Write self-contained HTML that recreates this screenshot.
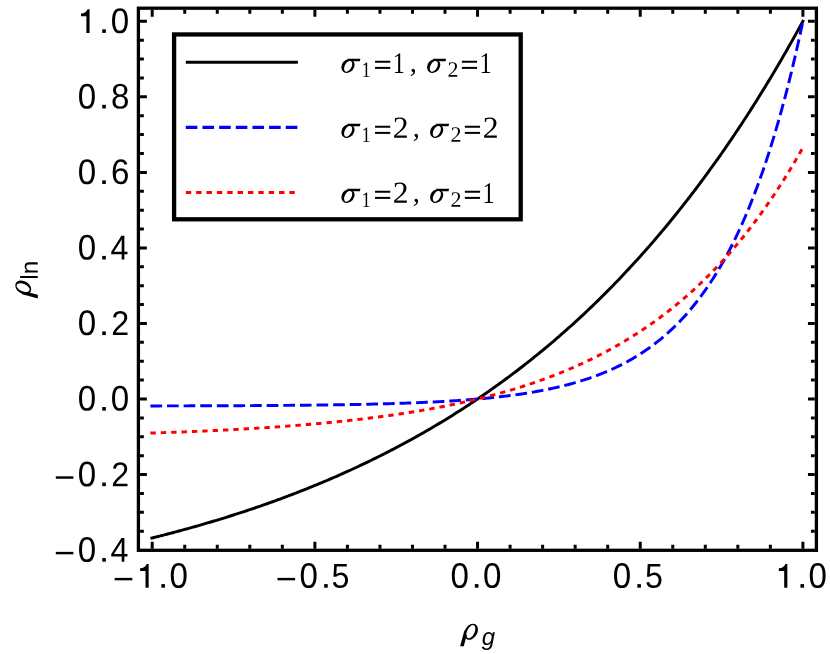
<!DOCTYPE html>
<html lang="en"><head><meta charset="utf-8"><title>plot</title><style>html,body{margin:0;padding:0;background:#fff}svg{display:block;will-change:transform}</style></head><body>
<svg width="830" height="654" viewBox="0 0 830 654">
<path d="M140.05,531.20h3.80M814.75,531.20h-3.80M140.05,512.31h3.80M814.75,512.31h-3.80M140.05,493.43h3.80M814.75,493.43h-3.80M140.05,474.54h6.80M814.75,474.54h-6.80M140.05,455.65h3.80M814.75,455.65h-3.80M140.05,436.77h3.80M814.75,436.77h-3.80M140.05,417.88h3.80M814.75,417.88h-3.80M140.05,399.00h6.80M814.75,399.00h-6.80M140.05,380.12h3.80M814.75,380.12h-3.80M140.05,361.23h3.80M814.75,361.23h-3.80M140.05,342.34h3.80M814.75,342.34h-3.80M140.05,323.46h6.80M814.75,323.46h-6.80M140.05,304.57h3.80M814.75,304.57h-3.80M140.05,285.69h3.80M814.75,285.69h-3.80M140.05,266.80h3.80M814.75,266.80h-3.80M140.05,247.92h6.80M814.75,247.92h-6.80M140.05,229.04h3.80M814.75,229.04h-3.80M140.05,210.15h3.80M814.75,210.15h-3.80M140.05,191.26h3.80M814.75,191.26h-3.80M140.05,172.38h6.80M814.75,172.38h-6.80M140.05,153.50h3.80M814.75,153.50h-3.80M140.05,134.61h3.80M814.75,134.61h-3.80M140.05,115.72h3.80M814.75,115.72h-3.80M140.05,96.84h6.80M814.75,96.84h-6.80M140.05,77.95h3.80M814.75,77.95h-3.80M140.05,59.07h3.80M814.75,59.07h-3.80M140.05,40.18h3.80M814.75,40.18h-3.80M140.05,21.30h6.80M814.75,21.30h-6.80M152.20,9.85v6.80M152.20,548.65v-6.80M184.73,9.85v3.80M184.73,548.65v-3.80M217.27,9.85v3.80M217.27,548.65v-3.80M249.80,9.85v3.80M249.80,548.65v-3.80M282.34,9.85v3.80M282.34,548.65v-3.80M314.88,9.85v6.80M314.88,548.65v-6.80M347.41,9.85v3.80M347.41,548.65v-3.80M379.94,9.85v3.80M379.94,548.65v-3.80M412.48,9.85v3.80M412.48,548.65v-3.80M445.01,9.85v3.80M445.01,548.65v-3.80M477.55,9.85v6.80M477.55,548.65v-6.80M510.09,9.85v3.80M510.09,548.65v-3.80M542.62,9.85v3.80M542.62,548.65v-3.80M575.15,9.85v3.80M575.15,548.65v-3.80M607.69,9.85v3.80M607.69,548.65v-3.80M640.23,9.85v6.80M640.23,548.65v-6.80M672.76,9.85v3.80M672.76,548.65v-3.80M705.30,9.85v3.80M705.30,548.65v-3.80M737.83,9.85v3.80M737.83,548.65v-3.80M770.37,9.85v3.80M770.37,548.65v-3.80M802.90,9.85v6.80M802.90,548.65v-6.80" stroke="#000" stroke-width="3.00" fill="none"/>
<rect x="138.40" y="8.20" width="678.00" height="542.10" fill="none" stroke="#000" stroke-width="3.30"/>
<path d="M150.45,538.38 L152.20,537.95 L153.83,537.54 L155.45,537.14 L157.08,536.73 L158.71,536.31 L160.33,535.90 L161.96,535.49 L163.59,535.07 L165.21,534.65 L166.84,534.23 L168.47,533.80 L170.09,533.38 L171.72,532.95 L173.35,532.52 L174.97,532.08 L176.60,531.65 L178.23,531.21 L179.85,530.77 L181.48,530.33 L183.11,529.89 L184.73,529.44 L186.36,529.00 L187.99,528.55 L189.62,528.09 L191.24,527.64 L192.87,527.18 L194.50,526.72 L196.12,526.26 L197.75,525.80 L199.38,525.33 L201.00,524.86 L202.63,524.39 L204.26,523.92 L205.88,523.44 L207.51,522.96 L209.14,522.48 L210.76,522.00 L212.39,521.51 L214.02,521.03 L215.64,520.54 L217.27,520.04 L218.90,519.55 L220.52,519.05 L222.15,518.55 L223.78,518.05 L225.40,517.54 L227.03,517.04 L228.66,516.53 L230.28,516.01 L231.91,515.50 L233.54,514.98 L235.16,514.46 L236.79,513.94 L238.42,513.41 L240.04,512.88 L241.67,512.35 L243.30,511.82 L244.92,511.28 L246.55,510.74 L248.18,510.20 L249.81,509.66 L251.43,509.11 L253.06,508.56 L254.69,508.01 L256.31,507.45 L257.94,506.89 L259.57,506.33 L261.19,505.77 L262.82,505.20 L264.45,504.63 L266.07,504.06 L267.70,503.49 L269.33,502.91 L270.95,502.33 L272.58,501.74 L274.21,501.16 L275.83,500.57 L277.46,499.97 L279.09,499.38 L280.71,498.78 L282.34,498.18 L283.97,497.57 L285.59,496.96 L287.22,496.35 L288.85,495.74 L290.47,495.12 L292.10,494.50 L293.73,493.88 L295.35,493.25 L296.98,492.62 L298.61,491.99 L300.23,491.36 L301.86,490.72 L303.49,490.08 L305.11,489.43 L306.74,488.78 L308.37,488.13 L309.99,487.47 L311.62,486.82 L313.25,486.15 L314.88,485.49 L316.50,484.82 L318.13,484.15 L319.76,483.47 L321.38,482.80 L323.01,482.11 L324.64,481.43 L326.26,480.74 L327.89,480.05 L329.52,479.35 L331.14,478.65 L332.77,477.95 L334.40,477.25 L336.02,476.54 L337.65,475.82 L339.28,475.11 L340.90,474.39 L342.53,473.66 L344.16,472.93 L345.78,472.20 L347.41,471.47 L349.04,470.73 L350.66,469.99 L352.29,469.24 L353.92,468.49 L355.54,467.74 L357.17,466.98 L358.80,466.22 L360.42,465.45 L362.05,464.69 L363.68,463.91 L365.30,463.14 L366.93,462.36 L368.56,461.57 L370.18,460.78 L371.81,459.99 L373.44,459.20 L375.06,458.40 L376.69,457.59 L378.32,456.78 L379.94,455.97 L381.57,455.16 L383.20,454.33 L384.83,453.51 L386.45,452.68 L388.08,451.85 L389.71,451.01 L391.33,450.17 L392.96,449.33 L394.59,448.48 L396.21,447.62 L397.84,446.76 L399.47,445.90 L401.09,445.04 L402.72,444.16 L404.35,443.29 L405.97,442.41 L407.60,441.52 L409.23,440.64 L410.85,439.74 L412.48,438.85 L414.11,437.94 L415.73,437.04 L417.36,436.13 L418.99,435.21 L420.61,434.29 L422.24,433.36 L423.87,432.43 L425.49,431.50 L427.12,430.56 L428.75,429.62 L430.37,428.67 L432.00,427.72 L433.63,426.76 L435.25,425.80 L436.88,424.83 L438.51,423.86 L440.13,422.88 L441.76,421.90 L443.39,420.91 L445.01,419.92 L446.64,418.92 L448.27,417.92 L449.90,416.91 L451.52,415.90 L453.15,414.88 L454.78,413.86 L456.40,412.83 L458.03,411.80 L459.66,410.76 L461.28,409.72 L462.91,408.67 L464.54,407.62 L466.16,406.56 L467.79,405.50 L469.42,404.43 L471.04,403.35 L472.67,402.27 L474.30,401.19 L475.92,400.10 L477.55,399.00 L479.18,397.90 L480.80,396.79 L482.43,395.68 L484.06,394.56 L485.68,393.44 L487.31,392.31 L488.94,391.17 L490.56,390.03 L492.19,388.88 L493.82,387.73 L495.44,386.57 L497.07,385.41 L498.70,384.24 L500.32,383.06 L501.95,381.88 L503.58,380.69 L505.20,379.50 L506.83,378.30 L508.46,377.09 L510.09,375.88 L511.71,374.66 L513.34,373.44 L514.97,372.21 L516.59,370.97 L518.22,369.73 L519.85,368.48 L521.47,367.23 L523.10,365.97 L524.73,364.70 L526.35,363.43 L527.98,362.15 L529.61,360.86 L531.23,359.57 L532.86,358.27 L534.49,356.96 L536.11,355.65 L537.74,354.33 L539.37,353.00 L540.99,351.67 L542.62,350.33 L544.25,348.99 L545.87,347.63 L547.50,346.28 L549.13,344.91 L550.75,343.54 L552.38,342.16 L554.01,340.77 L555.63,339.38 L557.26,337.98 L558.89,336.57 L560.51,335.15 L562.14,333.73 L563.77,332.30 L565.39,330.87 L567.02,329.42 L568.65,327.97 L570.27,326.51 L571.90,325.05 L573.53,323.58 L575.15,322.10 L576.78,320.61 L578.41,319.11 L580.04,317.61 L581.66,316.10 L583.29,314.59 L584.92,313.06 L586.54,311.53 L588.17,309.99 L589.80,308.44 L591.42,306.88 L593.05,305.32 L594.68,303.75 L596.30,302.17 L597.93,300.58 L599.56,298.99 L601.18,297.38 L602.81,295.77 L604.44,294.15 L606.06,292.53 L607.69,290.89 L609.32,289.25 L610.94,287.60 L612.57,285.93 L614.20,284.27 L615.82,282.59 L617.45,280.90 L619.08,279.21 L620.70,277.51 L622.33,275.80 L623.96,274.08 L625.58,272.35 L627.21,270.61 L628.84,268.87 L630.46,267.11 L632.09,265.35 L633.72,263.58 L635.34,261.80 L636.97,260.01 L638.60,258.21 L640.23,256.40 L641.85,254.59 L643.48,252.76 L645.11,250.93 L646.73,249.08 L648.36,247.23 L649.99,245.37 L651.61,243.49 L653.24,241.61 L654.87,239.72 L656.49,237.82 L658.12,235.91 L659.75,233.99 L661.37,232.06 L663.00,230.13 L664.63,228.18 L666.25,226.22 L667.88,224.25 L669.51,222.27 L671.13,220.29 L672.76,218.29 L674.39,216.28 L676.01,214.26 L677.64,212.23 L679.27,210.20 L680.89,208.15 L682.52,206.09 L684.15,204.02 L685.77,201.94 L687.40,199.85 L689.03,197.75 L690.65,195.64 L692.28,193.52 L693.91,191.39 L695.53,189.25 L697.16,187.09 L698.79,184.93 L700.41,182.75 L702.04,180.57 L703.67,178.37 L705.30,176.16 L706.92,173.95 L708.55,171.72 L710.18,169.47 L711.80,167.22 L713.43,164.96 L715.06,162.68 L716.68,160.40 L718.31,158.10 L719.94,155.79 L721.56,153.47 L723.19,151.14 L724.82,148.79 L726.44,146.44 L728.07,144.07 L729.70,141.69 L731.32,139.30 L732.95,136.89 L734.58,134.48 L736.20,132.05 L737.83,129.61 L739.46,127.16 L741.08,124.69 L742.71,122.22 L744.34,119.73 L745.96,117.23 L747.59,114.71 L749.22,112.19 L750.84,109.65 L752.47,107.09 L754.10,104.53 L755.72,101.95 L757.35,99.36 L758.98,96.76 L760.60,94.14 L762.23,91.51 L763.86,88.87 L765.48,86.21 L767.11,83.54 L768.74,80.86 L770.37,78.16 L771.99,75.45 L773.62,72.73 L775.25,69.99 L776.87,67.24 L778.50,64.47 L780.13,61.70 L781.75,58.90 L783.38,56.10 L785.01,53.28 L786.63,50.44 L788.26,47.59 L789.89,44.73 L791.51,41.85 L793.14,38.96 L794.77,36.05 L796.39,33.13 L798.02,30.20 L799.65,27.25 L801.27,24.28 L802.90,21.30 L803.62,19.98" fill="none" stroke="#000" stroke-width="2.95"/>
<path d="M150.40,405.92 L152.20,405.92 L153.83,405.92 L155.45,405.91 L157.08,405.91 L158.71,405.91 L160.33,405.90 L161.96,405.90 L163.59,405.90 L165.21,405.90 L166.84,405.89 L168.47,405.89 L170.09,405.89 L171.72,405.88 L173.35,405.88 L174.97,405.88 L176.60,405.87 L178.23,405.87 L179.85,405.87 L181.48,405.86 L183.11,405.86 L184.73,405.85 L186.36,405.85 L187.99,405.85 L189.62,405.84 L191.24,405.84 L192.87,405.83 L194.50,405.83 L196.12,405.83 L197.75,405.82 L199.38,405.82 L201.00,405.81 L202.63,405.81 L204.26,405.80 L205.88,405.80 L207.51,405.79 L209.14,405.79 L210.76,405.78 L212.39,405.78 L214.02,405.77 L215.64,405.77 L217.27,405.76 L218.90,405.75 L220.52,405.75 L222.15,405.74 L223.78,405.74 L225.40,405.73 L227.03,405.72 L228.66,405.72 L230.28,405.71 L231.91,405.70 L233.54,405.70 L235.16,405.69 L236.79,405.68 L238.42,405.67 L240.04,405.67 L241.67,405.66 L243.30,405.65 L244.92,405.64 L246.55,405.64 L248.18,405.63 L249.81,405.62 L251.43,405.61 L253.06,405.60 L254.69,405.59 L256.31,405.58 L257.94,405.57 L259.57,405.56 L261.19,405.55 L262.82,405.54 L264.45,405.53 L266.07,405.52 L267.70,405.51 L269.33,405.50 L270.95,405.49 L272.58,405.48 L274.21,405.47 L275.83,405.46 L277.46,405.44 L279.09,405.43 L280.71,405.42 L282.34,405.41 L283.97,405.39 L285.59,405.38 L287.22,405.37 L288.85,405.35 L290.47,405.34 L292.10,405.33 L293.73,405.31 L295.35,405.30 L296.98,405.28 L298.61,405.27 L300.23,405.25 L301.86,405.23 L303.49,405.22 L305.11,405.20 L306.74,405.18 L308.37,405.17 L309.99,405.15 L311.62,405.13 L313.25,405.11 L314.88,405.09 L316.50,405.07 L318.13,405.05 L319.76,405.03 L321.38,405.01 L323.01,404.99 L324.64,404.97 L326.26,404.95 L327.89,404.93 L329.52,404.91 L331.14,404.88 L332.77,404.86 L334.40,404.83 L336.02,404.81 L337.65,404.79 L339.28,404.76 L340.90,404.73 L342.53,404.71 L344.16,404.68 L345.78,404.65 L347.41,404.62 L349.04,404.60 L350.66,404.57 L352.29,404.54 L353.92,404.51 L355.54,404.47 L357.17,404.44 L358.80,404.41 L360.42,404.38 L362.05,404.34 L363.68,404.31 L365.30,404.27 L366.93,404.24 L368.56,404.20 L370.18,404.16 L371.81,404.13 L373.44,404.09 L375.06,404.05 L376.69,404.01 L378.32,403.97 L379.94,403.92 L381.57,403.88 L383.20,403.84 L384.83,403.79 L386.45,403.75 L388.08,403.70 L389.71,403.65 L391.33,403.61 L392.96,403.56 L394.59,403.51 L396.21,403.45 L397.84,403.40 L399.47,403.35 L401.09,403.29 L402.72,403.24 L404.35,403.18 L405.97,403.12 L407.60,403.06 L409.23,403.00 L410.85,402.94 L412.48,402.88 L414.11,402.82 L415.73,402.75 L417.36,402.68 L418.99,402.62 L420.61,402.55 L422.24,402.48 L423.87,402.40 L425.49,402.33 L427.12,402.26 L428.75,402.18 L430.37,402.10 L432.00,402.02 L433.63,401.94 L435.25,401.86 L436.88,401.77 L438.51,401.69 L440.13,401.60 L441.76,401.51 L443.39,401.42 L445.01,401.32 L446.64,401.23 L448.27,401.13 L449.90,401.03 L451.52,400.93 L453.15,400.83 L454.78,400.72 L456.40,400.61 L458.03,400.50 L459.66,400.39 L461.28,400.28 L462.91,400.16 L464.54,400.04 L466.16,399.92 L467.79,399.80 L469.42,399.67 L471.04,399.54 L472.67,399.41 L474.30,399.28 L475.92,399.14 L477.55,399.00 L479.18,398.86 L480.80,398.71 L482.43,398.56 L484.06,398.41 L485.68,398.26 L487.31,398.10 L488.94,397.94 L490.56,397.78 L492.19,397.61 L493.82,397.44 L495.44,397.27 L497.07,397.09 L498.70,396.91 L500.32,396.72 L501.95,396.53 L503.58,396.34 L505.20,396.15 L506.83,395.95 L508.46,395.74 L510.09,395.53 L511.71,395.32 L513.34,395.11 L514.97,394.88 L516.59,394.66 L518.22,394.43 L519.85,394.19 L521.47,393.95 L523.10,393.71 L524.73,393.46 L526.35,393.21 L527.98,392.95 L529.61,392.68 L531.23,392.41 L532.86,392.14 L534.49,391.86 L536.11,391.57 L537.74,391.28 L539.37,390.98 L540.99,390.67 L542.62,390.36 L544.25,390.05 L545.87,389.72 L547.50,389.39 L549.13,389.06 L550.75,388.71 L552.38,388.36 L554.01,388.01 L555.63,387.64 L557.26,387.27 L558.89,386.89 L560.51,386.50 L562.14,386.11 L563.77,385.71 L565.39,385.30 L567.02,384.88 L568.65,384.45 L570.27,384.01 L571.90,383.57 L573.53,383.11 L575.15,382.65 L576.78,382.18 L578.41,381.70 L580.04,381.20 L581.66,380.70 L583.29,380.19 L584.92,379.67 L586.54,379.13 L588.17,378.59 L589.80,378.04 L591.42,377.47 L593.05,376.89 L594.68,376.30 L596.30,375.70 L597.93,375.09 L599.56,374.46 L601.18,373.83 L602.81,373.18 L604.44,372.51 L606.06,371.83 L607.69,371.14 L609.32,370.44 L610.94,369.72 L612.57,368.99 L614.20,368.24 L615.82,367.47 L617.45,366.69 L619.08,365.90 L620.70,365.09 L622.33,364.26 L623.96,363.42 L625.58,362.55 L627.21,361.68 L628.84,360.78 L630.46,359.87 L632.09,358.93 L633.72,357.98 L635.34,357.01 L636.97,356.02 L638.60,355.01 L640.23,353.98 L641.85,352.93 L643.48,351.85 L645.11,350.76 L646.73,349.64 L648.36,348.50 L649.99,347.34 L651.61,346.15 L653.24,344.94 L654.87,343.71 L656.49,342.45 L658.12,341.16 L659.75,339.85 L661.37,338.52 L663.00,337.15 L664.63,335.76 L666.25,334.34 L667.88,332.89 L669.51,331.41 L671.13,329.91 L672.76,328.37 L674.39,326.80 L676.01,325.20 L677.64,323.56 L679.27,321.90 L680.89,320.20 L682.52,318.46 L684.15,316.69 L685.77,314.89 L687.40,313.05 L689.03,311.17 L690.65,309.25 L692.28,307.30 L693.91,305.30 L695.53,303.27 L697.16,301.19 L698.79,299.07 L700.41,296.91 L702.04,294.71 L703.67,292.46 L705.30,290.16 L706.92,287.82 L708.55,285.43 L710.18,283.00 L711.80,280.51 L713.43,277.98 L715.06,275.39 L716.68,272.75 L718.31,270.06 L719.94,267.31 L721.56,264.51 L723.19,261.65 L724.82,258.73 L726.44,255.75 L728.07,252.72 L729.70,249.62 L731.32,246.46 L732.95,243.24 L734.58,239.95 L736.20,236.59 L737.83,233.17 L739.46,229.68 L741.08,226.11 L742.71,222.48 L744.34,218.77 L745.96,214.99 L747.59,211.13 L749.22,207.19 L750.84,203.17 L752.47,199.07 L754.10,194.89 L755.72,190.63 L757.35,186.28 L758.98,181.84 L760.60,177.31 L762.23,172.69 L763.86,167.97 L765.48,163.16 L767.11,158.26 L768.74,153.25 L770.37,148.14 L771.99,142.93 L773.62,137.62 L775.25,132.20 L776.87,126.66 L778.50,121.02 L780.13,115.26 L781.75,109.39 L783.38,103.39 L785.01,97.28 L786.63,91.04 L788.26,84.68 L789.89,78.19 L791.51,71.56 L793.14,64.81 L794.77,57.91 L796.39,50.88 L798.02,43.71 L799.65,36.39 L801.27,28.92 L802.90,21.30 L803.21,19.83" fill="none" stroke="#00f" stroke-width="2.95" stroke-dasharray="11.7 4.91"/>
<path d="M150.40,433.09 L152.20,433.03 L153.83,432.98 L155.45,432.92 L157.08,432.87 L158.71,432.81 L160.33,432.76 L161.96,432.70 L163.59,432.64 L165.21,432.59 L166.84,432.53 L168.47,432.47 L170.09,432.41 L171.72,432.35 L173.35,432.29 L174.97,432.23 L176.60,432.17 L178.23,432.11 L179.85,432.04 L181.48,431.98 L183.11,431.92 L184.73,431.85 L186.36,431.79 L187.99,431.72 L189.62,431.65 L191.24,431.59 L192.87,431.52 L194.50,431.45 L196.12,431.38 L197.75,431.31 L199.38,431.24 L201.00,431.17 L202.63,431.10 L204.26,431.02 L205.88,430.95 L207.51,430.87 L209.14,430.80 L210.76,430.72 L212.39,430.65 L214.02,430.57 L215.64,430.49 L217.27,430.41 L218.90,430.33 L220.52,430.25 L222.15,430.17 L223.78,430.09 L225.40,430.00 L227.03,429.92 L228.66,429.84 L230.28,429.75 L231.91,429.66 L233.54,429.58 L235.16,429.49 L236.79,429.40 L238.42,429.31 L240.04,429.22 L241.67,429.13 L243.30,429.03 L244.92,428.94 L246.55,428.84 L248.18,428.75 L249.81,428.65 L251.43,428.55 L253.06,428.46 L254.69,428.36 L256.31,428.26 L257.94,428.15 L259.57,428.05 L261.19,427.95 L262.82,427.84 L264.45,427.74 L266.07,427.63 L267.70,427.52 L269.33,427.41 L270.95,427.30 L272.58,427.19 L274.21,427.08 L275.83,426.97 L277.46,426.85 L279.09,426.74 L280.71,426.62 L282.34,426.50 L283.97,426.38 L285.59,426.26 L287.22,426.14 L288.85,426.02 L290.47,425.90 L292.10,425.77 L293.73,425.64 L295.35,425.52 L296.98,425.39 L298.61,425.26 L300.23,425.12 L301.86,424.99 L303.49,424.86 L305.11,424.72 L306.74,424.58 L308.37,424.45 L309.99,424.31 L311.62,424.17 L313.25,424.02 L314.88,423.88 L316.50,423.73 L318.13,423.59 L319.76,423.44 L321.38,423.29 L323.01,423.14 L324.64,422.98 L326.26,422.83 L327.89,422.67 L329.52,422.52 L331.14,422.36 L332.77,422.19 L334.40,422.03 L336.02,421.87 L337.65,421.70 L339.28,421.54 L340.90,421.37 L342.53,421.20 L344.16,421.02 L345.78,420.85 L347.41,420.67 L349.04,420.50 L350.66,420.32 L352.29,420.13 L353.92,419.95 L355.54,419.77 L357.17,419.58 L358.80,419.39 L360.42,419.20 L362.05,419.01 L363.68,418.81 L365.30,418.62 L366.93,418.42 L368.56,418.22 L370.18,418.02 L371.81,417.81 L373.44,417.60 L375.06,417.40 L376.69,417.19 L378.32,416.97 L379.94,416.76 L381.57,416.54 L383.20,416.32 L384.83,416.10 L386.45,415.88 L388.08,415.65 L389.71,415.42 L391.33,415.19 L392.96,414.96 L394.59,414.72 L396.21,414.49 L397.84,414.25 L399.47,414.00 L401.09,413.76 L402.72,413.51 L404.35,413.26 L405.97,413.01 L407.60,412.76 L409.23,412.50 L410.85,412.24 L412.48,411.98 L414.11,411.71 L415.73,411.44 L417.36,411.17 L418.99,410.90 L420.61,410.62 L422.24,410.34 L423.87,410.06 L425.49,409.78 L427.12,409.49 L428.75,409.20 L430.37,408.91 L432.00,408.61 L433.63,408.31 L435.25,408.01 L436.88,407.71 L438.51,407.40 L440.13,407.09 L441.76,406.77 L443.39,406.45 L445.01,406.13 L446.64,405.81 L448.27,405.48 L449.90,405.15 L451.52,404.82 L453.15,404.48 L454.78,404.14 L456.40,403.80 L458.03,403.45 L459.66,403.10 L461.28,402.75 L462.91,402.39 L464.54,402.03 L466.16,401.66 L467.79,401.29 L469.42,400.92 L471.04,400.54 L472.67,400.16 L474.30,399.78 L475.92,399.39 L477.55,399.00 L479.18,398.60 L480.80,398.20 L482.43,397.80 L484.06,397.39 L485.68,396.98 L487.31,396.57 L488.94,396.15 L490.56,395.72 L492.19,395.29 L493.82,394.86 L495.44,394.42 L497.07,393.98 L498.70,393.54 L500.32,393.09 L501.95,392.63 L503.58,392.17 L505.20,391.71 L506.83,391.24 L508.46,390.76 L510.09,390.29 L511.71,389.80 L513.34,389.32 L514.97,388.82 L516.59,388.32 L518.22,387.82 L519.85,387.31 L521.47,386.80 L523.10,386.28 L524.73,385.76 L526.35,385.23 L527.98,384.70 L529.61,384.16 L531.23,383.61 L532.86,383.06 L534.49,382.51 L536.11,381.95 L537.74,381.38 L539.37,380.81 L540.99,380.23 L542.62,379.64 L544.25,379.05 L545.87,378.46 L547.50,377.86 L549.13,377.25 L550.75,376.63 L552.38,376.01 L554.01,375.39 L555.63,374.75 L557.26,374.11 L558.89,373.47 L560.51,372.82 L562.14,372.16 L563.77,371.49 L565.39,370.82 L567.02,370.14 L568.65,369.46 L570.27,368.76 L571.90,368.06 L573.53,367.36 L575.15,366.64 L576.78,365.92 L578.41,365.19 L580.04,364.46 L581.66,363.72 L583.29,362.97 L584.92,362.21 L586.54,361.44 L588.17,360.67 L589.80,359.89 L591.42,359.10 L593.05,358.30 L594.68,357.50 L596.30,356.69 L597.93,355.87 L599.56,355.04 L601.18,354.20 L602.81,353.35 L604.44,352.50 L606.06,351.64 L607.69,350.77 L609.32,349.89 L610.94,349.00 L612.57,348.10 L614.20,347.19 L615.82,346.28 L617.45,345.35 L619.08,344.41 L620.70,343.47 L622.33,342.52 L623.96,341.55 L625.58,340.58 L627.21,339.60 L628.84,338.61 L630.46,337.60 L632.09,336.59 L633.72,335.57 L635.34,334.53 L636.97,333.49 L638.60,332.44 L640.23,331.37 L641.85,330.30 L643.48,329.21 L645.11,328.11 L646.73,327.01 L648.36,325.89 L649.99,324.76 L651.61,323.62 L653.24,322.46 L654.87,321.30 L656.49,320.12 L658.12,318.93 L659.75,317.73 L661.37,316.52 L663.00,315.30 L664.63,314.06 L666.25,312.81 L667.88,311.55 L669.51,310.27 L671.13,308.99 L672.76,307.69 L674.39,306.37 L676.01,305.05 L677.64,303.71 L679.27,302.35 L680.89,300.99 L682.52,299.61 L684.15,298.21 L685.77,296.80 L687.40,295.38 L689.03,293.94 L690.65,292.49 L692.28,291.03 L693.91,289.55 L695.53,288.05 L697.16,286.54 L698.79,285.01 L700.41,283.47 L702.04,281.92 L703.67,280.34 L705.30,278.76 L706.92,277.15 L708.55,275.53 L710.18,273.90 L711.80,272.24 L713.43,270.57 L715.06,268.89 L716.68,267.18 L718.31,265.46 L719.94,263.73 L721.56,261.97 L723.19,260.20 L724.82,258.41 L726.44,256.60 L728.07,254.77 L729.70,252.93 L731.32,251.06 L732.95,249.18 L734.58,247.28 L736.20,245.36 L737.83,243.42 L739.46,241.46 L741.08,239.48 L742.71,237.48 L744.34,235.46 L745.96,233.42 L747.59,231.37 L749.22,229.28 L750.84,227.18 L752.47,225.06 L754.10,222.92 L755.72,220.75 L757.35,218.57 L758.98,216.36 L760.60,214.13 L762.23,211.87 L763.86,209.60 L765.48,207.30 L767.11,204.97 L768.74,202.63 L770.37,200.26 L771.99,197.87 L773.62,195.45 L775.25,193.01 L776.87,190.54 L778.50,188.05 L780.13,185.54 L781.75,183.00 L783.38,180.43 L785.01,177.84 L786.63,175.22 L788.26,172.57 L789.89,169.90 L791.51,167.20 L793.14,164.48 L794.77,161.73 L796.39,158.95 L798.02,156.14 L799.65,153.30 L801.27,150.44 L802.90,147.54 L803.64,146.24" fill="none" stroke="#f00" stroke-width="2.95" stroke-dasharray="5.4 4.975"/>
<rect x="174.1" y="34.45" width="346.60" height="184.85" fill="#fff" stroke="#000" stroke-width="4.3"/>
<path d="M185.8,62.3H297.9" stroke="#000" stroke-width="3.1"/>
<path d="M185.8,127.4H297.9" stroke="#00f" stroke-width="3.1" stroke-dasharray="11.6 5.06"/>
<path d="M185.8,192.5H297.9" stroke="#f00" stroke-width="3.1" stroke-dasharray="5.4 4.96"/>
<path d="M89.55,9.20V32.90h-3.15V16.20H81.00v-2.75C84.60,13.40 86.60,11.80 87.55,9.20Z"/><rect x="102.25" y="29.30" width="3.6" height="3.6"/><text transform="translate(110.78,32.90) rotate(.03) scale(0.935,1)" font-family="Liberation Sans, sans-serif" font-size="35.4">0</text>
<text transform="translate(77.81,108.44) rotate(.03) scale(0.935,1)" font-family="Liberation Sans, sans-serif" font-size="35.4">0</text><rect x="102.25" y="104.84" width="3.6" height="3.6"/><text transform="translate(110.93,108.44) rotate(.03) scale(0.935,1)" font-family="Liberation Sans, sans-serif" font-size="35.4">8</text>
<text transform="translate(77.81,183.98) rotate(.03) scale(0.935,1)" font-family="Liberation Sans, sans-serif" font-size="35.4">0</text><rect x="102.25" y="180.38" width="3.6" height="3.6"/><text transform="translate(110.95,183.98) rotate(.03) scale(0.935,1)" font-family="Liberation Sans, sans-serif" font-size="35.4">6</text>
<text transform="translate(77.81,259.52) rotate(.03) scale(0.935,1)" font-family="Liberation Sans, sans-serif" font-size="35.4">0</text><rect x="102.25" y="255.92" width="3.6" height="3.6"/><text transform="translate(110.48,259.52) rotate(.03) scale(0.935,1)" font-family="Liberation Sans, sans-serif" font-size="34.5">4</text>
<text transform="translate(77.81,335.06) rotate(.03) scale(0.935,1)" font-family="Liberation Sans, sans-serif" font-size="35.4">0</text><rect x="102.25" y="331.46" width="3.6" height="3.6"/><text transform="translate(111.20,335.06) rotate(.03) scale(0.935,1)" font-family="Liberation Sans, sans-serif" font-size="34.5">2</text>
<text transform="translate(77.81,410.60) rotate(.03) scale(0.935,1)" font-family="Liberation Sans, sans-serif" font-size="35.4">0</text><rect x="102.25" y="407.00" width="3.6" height="3.6"/><text transform="translate(110.78,410.60) rotate(.03) scale(0.935,1)" font-family="Liberation Sans, sans-serif" font-size="35.4">0</text>
<rect x="55.80" y="476.32" width="17.6" height="2.45"/><text transform="translate(77.81,486.14) rotate(.03) scale(0.935,1)" font-family="Liberation Sans, sans-serif" font-size="35.4">0</text><rect x="102.25" y="482.54" width="3.6" height="3.6"/><text transform="translate(111.20,486.14) rotate(.03) scale(0.935,1)" font-family="Liberation Sans, sans-serif" font-size="34.5">2</text>
<rect x="55.80" y="551.86" width="17.6" height="2.45"/><text transform="translate(77.81,561.68) rotate(.03) scale(0.935,1)" font-family="Liberation Sans, sans-serif" font-size="35.4">0</text><rect x="102.25" y="558.08" width="3.6" height="3.6"/><text transform="translate(110.48,561.68) rotate(.03) scale(0.935,1)" font-family="Liberation Sans, sans-serif" font-size="34.5">4</text>
<rect x="114.70" y="577.88" width="17.6" height="2.45"/><path d="M148.65,564.00V587.70h-3.15V571.00H140.10v-2.75C143.70,568.20 145.70,566.60 146.65,564.00Z"/><rect x="161.35" y="584.10" width="3.6" height="3.6"/><text transform="translate(169.51,587.70) rotate(.03) scale(0.935,1)" font-family="Liberation Sans, sans-serif" font-size="35.4">0</text>
<rect x="277.50" y="577.88" width="17.6" height="2.45"/><text transform="translate(299.41,587.70) rotate(.03) scale(0.935,1)" font-family="Liberation Sans, sans-serif" font-size="35.4">0</text><rect x="324.15" y="584.10" width="3.6" height="3.6"/><text transform="translate(331.61,587.70) rotate(.03) scale(0.935,1)" font-family="Liberation Sans, sans-serif" font-size="34.5">5</text>
<text transform="translate(450.41,587.70) rotate(.03) scale(0.935,1)" font-family="Liberation Sans, sans-serif" font-size="35.4">0</text><rect x="474.85" y="584.10" width="3.6" height="3.6"/><text transform="translate(483.01,587.70) rotate(.03) scale(0.935,1)" font-family="Liberation Sans, sans-serif" font-size="35.4">0</text>
<text transform="translate(612.81,587.70) rotate(.03) scale(0.935,1)" font-family="Liberation Sans, sans-serif" font-size="35.4">0</text><rect x="637.35" y="584.10" width="3.6" height="3.6"/><text transform="translate(645.11,587.70) rotate(.03) scale(0.935,1)" font-family="Liberation Sans, sans-serif" font-size="34.5">5</text>
<path d="M787.35,564.00V587.70h-3.15V571.00H778.80v-2.75C782.40,568.20 784.40,566.60 785.35,564.00Z"/><rect x="800.45" y="584.10" width="3.6" height="3.6"/><text transform="translate(808.61,587.70) rotate(.03) scale(0.935,1)" font-family="Liberation Sans, sans-serif" font-size="35.4">0</text>
<path d="M352.69,60.42A7.33,6.11 -50.0 1 1 343.27,71.66A7.33,6.11 -50.0 1 1 352.69,60.42ZM350.89,61.10A5.87,3.33 -62.0 1 0 345.37,71.46A5.87,3.33 -62.0 1 0 350.89,61.10Z"/><path d="M346.90,58.85H360.45L359.80,61.20H350.50Z"/><text transform="translate(361.81,76.70) rotate(.03) scale(0.800,1)" font-family="Liberation Serif, serif" font-size="22.0">1</text><rect x="375.05" y="60.75" width="15.2" height="2.0"/><rect x="375.05" y="66.90" width="15.2" height="2.0"/><text transform="translate(392.69,72.80) rotate(.03) scale(0.810,1)" font-family="Liberation Serif, serif" font-size="30.0">1</text><text transform="translate(409.71,71.80) rotate(.03)" font-family="Liberation Serif, serif" font-size="28.5">,</text><path d="M438.39,60.42A7.33,6.11 -50.0 1 1 428.97,71.66A7.33,6.11 -50.0 1 1 438.39,60.42ZM436.59,61.10A5.87,3.33 -62.0 1 0 431.07,71.46A5.87,3.33 -62.0 1 0 436.59,61.10Z"/><path d="M432.60,58.85H446.15L445.50,61.20H436.20Z"/><text transform="translate(447.43,76.70) rotate(.03)" font-family="Liberation Serif, serif" font-size="22.0">2</text><rect x="461.85" y="60.75" width="15.2" height="2.0"/><rect x="461.85" y="66.90" width="15.2" height="2.0"/><text transform="translate(479.59,72.80) rotate(.03) scale(0.810,1)" font-family="Liberation Serif, serif" font-size="30.0">1</text>
<path d="M352.69,125.42A7.33,6.11 -50.0 1 1 343.27,136.66A7.33,6.11 -50.0 1 1 352.69,125.42ZM350.89,126.10A5.87,3.33 -62.0 1 0 345.37,136.46A5.87,3.33 -62.0 1 0 350.89,126.10Z"/><path d="M346.90,123.85H360.45L359.80,126.20H350.50Z"/><text transform="translate(361.81,141.70) rotate(.03) scale(0.800,1)" font-family="Liberation Serif, serif" font-size="22.0">1</text><rect x="375.05" y="125.75" width="15.2" height="2.0"/><rect x="375.05" y="131.90" width="15.2" height="2.0"/><text transform="translate(392.81,137.80) rotate(.03) scale(1.040,1)" font-family="Liberation Serif, serif" font-size="30.5">2</text><text transform="translate(412.71,136.80) rotate(.03)" font-family="Liberation Serif, serif" font-size="28.5">,</text><path d="M441.39,125.42A7.33,6.11 -50.0 1 1 431.97,136.66A7.33,6.11 -50.0 1 1 441.39,125.42ZM439.59,126.10A5.87,3.33 -62.0 1 0 434.07,136.46A5.87,3.33 -62.0 1 0 439.59,126.10Z"/><path d="M435.60,123.85H449.15L448.50,126.20H439.20Z"/><text transform="translate(450.43,141.70) rotate(.03)" font-family="Liberation Serif, serif" font-size="22.0">2</text><rect x="464.85" y="125.75" width="15.2" height="2.0"/><rect x="464.85" y="131.90" width="15.2" height="2.0"/><text transform="translate(482.81,137.80) rotate(.03) scale(1.040,1)" font-family="Liberation Serif, serif" font-size="30.5">2</text>
<path d="M352.69,190.42A7.33,6.11 -50.0 1 1 343.27,201.66A7.33,6.11 -50.0 1 1 352.69,190.42ZM350.89,191.10A5.87,3.33 -62.0 1 0 345.37,201.46A5.87,3.33 -62.0 1 0 350.89,191.10Z"/><path d="M346.90,188.85H360.45L359.80,191.20H350.50Z"/><text transform="translate(361.81,206.70) rotate(.03) scale(0.800,1)" font-family="Liberation Serif, serif" font-size="22.0">1</text><rect x="375.05" y="190.75" width="15.2" height="2.0"/><rect x="375.05" y="196.90" width="15.2" height="2.0"/><text transform="translate(392.81,202.80) rotate(.03) scale(1.040,1)" font-family="Liberation Serif, serif" font-size="30.5">2</text><text transform="translate(412.71,201.80) rotate(.03)" font-family="Liberation Serif, serif" font-size="28.5">,</text><path d="M441.39,190.42A7.33,6.11 -50.0 1 1 431.97,201.66A7.33,6.11 -50.0 1 1 441.39,190.42ZM439.59,191.10A5.87,3.33 -62.0 1 0 434.07,201.46A5.87,3.33 -62.0 1 0 439.59,191.10Z"/><path d="M435.60,188.85H449.15L448.50,191.20H439.20Z"/><text transform="translate(450.43,206.70) rotate(.03)" font-family="Liberation Serif, serif" font-size="22.0">2</text><rect x="464.85" y="190.75" width="15.2" height="2.0"/><rect x="464.85" y="196.90" width="15.2" height="2.0"/><text transform="translate(482.59,202.80) rotate(.03) scale(0.810,1)" font-family="Liberation Serif, serif" font-size="30.0">1</text>
<g transform="translate(460.1,639.7)"><path d="M15.30,-15.40A8.60,6.20 -60.0 1 1 6.70,-0.50A8.60,6.20 -60.0 1 1 15.30,-15.40ZM13.71,-14.39A7.00,3.60 -65.0 1 0 7.79,-1.71A7.00,3.60 -65.0 1 0 13.71,-14.39Z"/><path d="M0.00,6.60L3.70,6.60L6.50,-4.20L4.40,-9.70Z"/></g>
<text transform="translate(481.75,645) rotate(.03)" font-family="Liberation Sans, sans-serif" font-style="italic" font-size="24">g</text>
<g transform="translate(31.2,298.4) rotate(-90)"><path d="M15.30,-15.40A8.60,6.20 -60.0 1 1 6.70,-0.50A8.60,6.20 -60.0 1 1 15.30,-15.40ZM13.71,-14.39A7.00,3.60 -65.0 1 0 7.79,-1.71A7.00,3.60 -65.0 1 0 13.71,-14.39Z"/><path d="M0.00,6.60L3.70,6.60L6.50,-4.20L4.40,-9.70Z"/><text transform="translate(18.66,6.6) rotate(.03)" font-family="Liberation Sans, sans-serif" font-size="24.3">ln</text></g>
</svg>
</body></html>
